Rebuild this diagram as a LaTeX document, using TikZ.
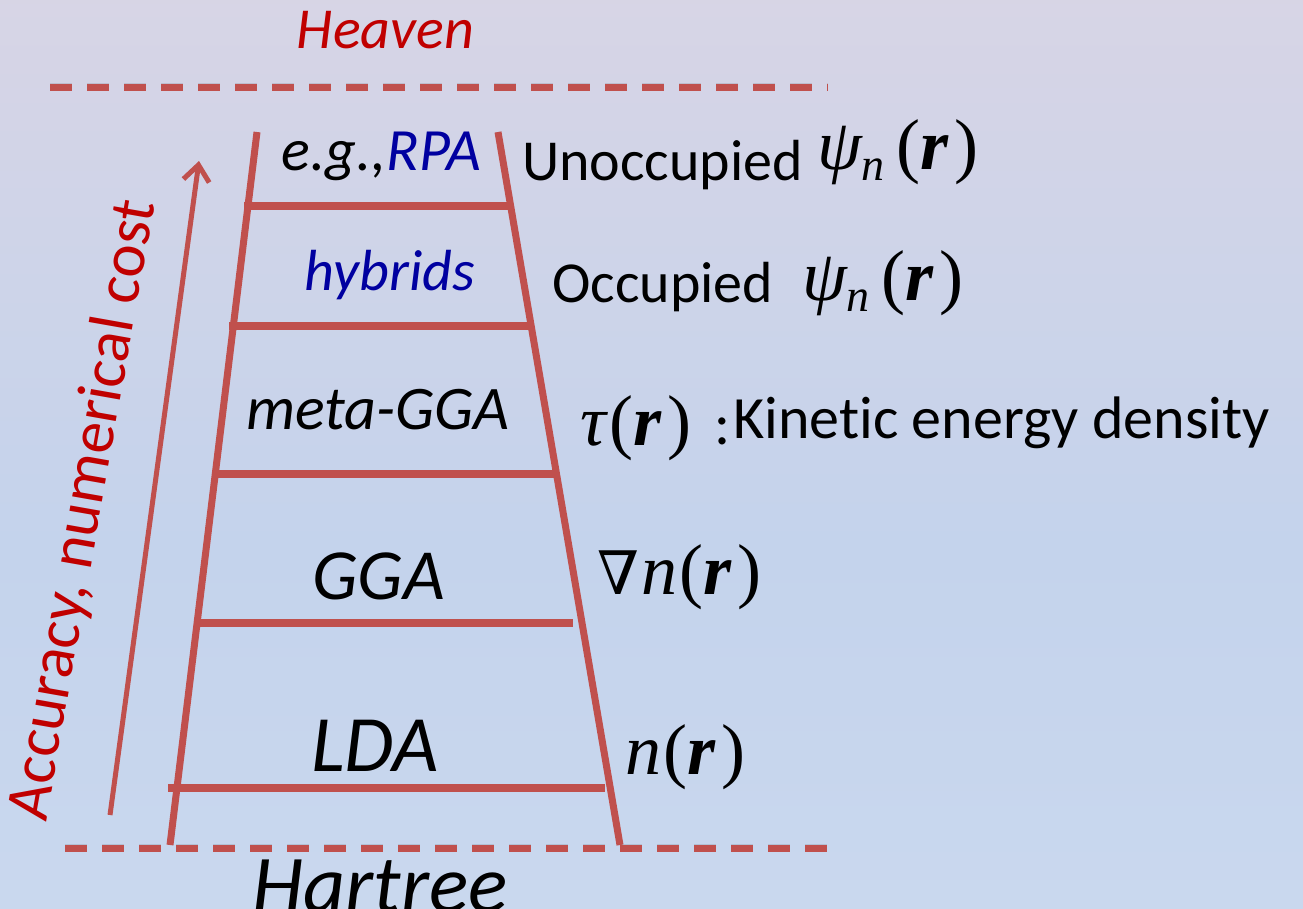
\documentclass[tikz,border=0pt]{standalone}
\usepackage{fontspec}
\setmainfont{Carlito}[Ligatures=NoCommon]
\newfontfamily\tnr{Liberation Serif}
\newfontfamily\djs{DejaVu Serif}
\usetikzlibrary{arrows.meta}

\definecolor{rail}{RGB}{192,80,77}
\definecolor{hred}{RGB}{192,0,0}
\definecolor{hblue}{RGB}{0,0,160}
\definecolor{bgtop}{RGB}{231,214,224}
\definecolor{bgmid}{RGB}{196,211,236}
\definecolor{bgbot}{RGB}{208,222,241}

\pgfdeclareverticalshading{slidebg}{100bp}{%
  color(0bp)=(bgbot); color(45bp)=(bgmid); color(100bp)=(bgtop)}

\newcommand\fsz[1]{\fontsize{#1}{#1}\selectfont}
% bold italic position vector r in a Times-like face
\newcommand\vr{{\bfseries\itshape r}}
\newcommand\ofr{(\vr\kern6pt)}
\newcommand\psin{{\itshape ψ}\raisebox{-11pt}{\fsz{46}\itshape n}\kern12pt}
\newcommand\nablasym{{\djs\fsz{60}∇}}

\tikzset{
  railline/.style={draw=rail, line width=7pt},
  rungline/.style={draw=rail, line width=8.5pt},
  limitline/.style={draw=rail, line width=7pt, dash pattern=on 22pt off 15pt},
  shadowline/.style={draw=black, opacity=0.10, line width=8pt},
  costarrow/.style={draw=rail, line width=5pt, -{Straight Barb[length=16pt,width=26pt]}},
  label/.style={inner sep=0pt, anchor=base},
  sidelabel/.style={inner sep=0pt, anchor=base west},
  mathlabel/.style={inner sep=0pt, anchor=base west, font=\tnr\fsz{72}},
}

\begin{document}
\begin{tikzpicture}[x=1pt, y=-1pt]
\useasboundingbox (0,0) rectangle (1303,908);
\shade[shading=slidebg] (0,0) rectangle (1303,908);

% ladder rails
\coordinate (lt) at (257,132);
\coordinate (lb) at (170,845);
\coordinate (rt) at (498,132);
\coordinate (rb) at (620,845);

% rungs, bottom to top
\coordinate (r1a) at (168,788); \coordinate (r1b) at (605,788);
\coordinate (r2a) at (200,623); \coordinate (r2b) at (573,623);
\coordinate (r3a) at (213,474); \coordinate (r3b) at (558,474);
\coordinate (r4a) at (229,326); \coordinate (r4b) at (530,326);
\coordinate (r5a) at (244,206); \coordinate (r5b) at (513,206);

% heaven / hartree limits
\coordinate (ht1) at (50,87);  \coordinate (ht2) at (828,87);
\coordinate (hb1) at (65,848); \coordinate (hb2) at (840,848);

% soft shadows
\begin{scope}[shift={(2,3)}]
  \foreach \a/\b in {r1a/r1b,r2a/r2b,r3a/r3b,r4a/r4b,r5a/r5b}
    \draw[shadowline] (\a) -- (\b);
  \draw[shadowline, dash pattern=on 22pt off 15pt] (ht1) -- (ht2);
  \draw[shadowline, dash pattern=on 22pt off 15pt] (hb1) -- (hb2);
\end{scope}

\draw[limitline] (ht1) -- (ht2);
\draw[limitline] (hb1) -- (hb2);

\draw[railline] (lt) -- (lb);
\draw[railline] (rt) -- (rb);
\foreach \a/\b in {r1a/r1b,r2a/r2b,r3a/r3b,r4a/r4b,r5a/r5b}
  \draw[rungline] (\a) -- (\b);

% accuracy arrow
\coordinate (c0) at (110,815);
\coordinate (c1) at (199,161);
\draw[costarrow] (c0) -- (c1);
\node[inner sep=0pt, text=hred, font=\fsz{63}\upshape] (cost) at (84,510)
  {\rotatebox{80}{Accuracy, numerical cost}};

% titles
\node[label, text=hred, font=\fsz{58}\itshape] (heaven) at (385.5,48) {Heaven};
\node[label, font=\fsz{82}\itshape] (hartree) at (380,912) {Hartree};

% rung names
\node[label, font=\fsz{60}\itshape] (rpa) at (381.5,170) {e.g.,\textcolor{hblue}{RPA}};
\node[label, text=hblue, font=\fsz{58}\itshape] (hyb) at (390,290) {hybrids};
\node[label, font=\fsz{62}\itshape] (mgga) at (378,429) {meta-GGA};
\node[label, font=\fsz{72}\itshape] (gga) at (378.5,599) {GGA};
\node[label, font=\fsz{80}\itshape] (lda) at (375,771) {LDA};

% ingredients
\node[sidelabel, font=\fsz{58}] (unocc) at (522,180) {Unoccupied};
\node[mathlabel] (unoccm) at (817,169) {\psin\ofr};
\node[sidelabel, font=\fsz{58}] (occ) at (552,302) {Occupied};
\node[mathlabel] (occm) at (802,300) {\psin\ofr};
\node[mathlabel] (tau) at (580,445) {{\itshape τ}\kern4pt\ofr};
\node[sidelabel, font=\fsz{60}] (colon) at (714,444) {:};
\node[sidelabel, font=\fsz{60}] (ked) at (733,438) {Kinetic energy density};
\node[mathlabel] (grad) at (597,594) {\nablasym\kern2pt{\itshape n}\kern2pt\ofr};
\node[mathlabel] (dens) at (625,774) {{\itshape n}\kern2pt\ofr};
\end{tikzpicture}
\end{document}
